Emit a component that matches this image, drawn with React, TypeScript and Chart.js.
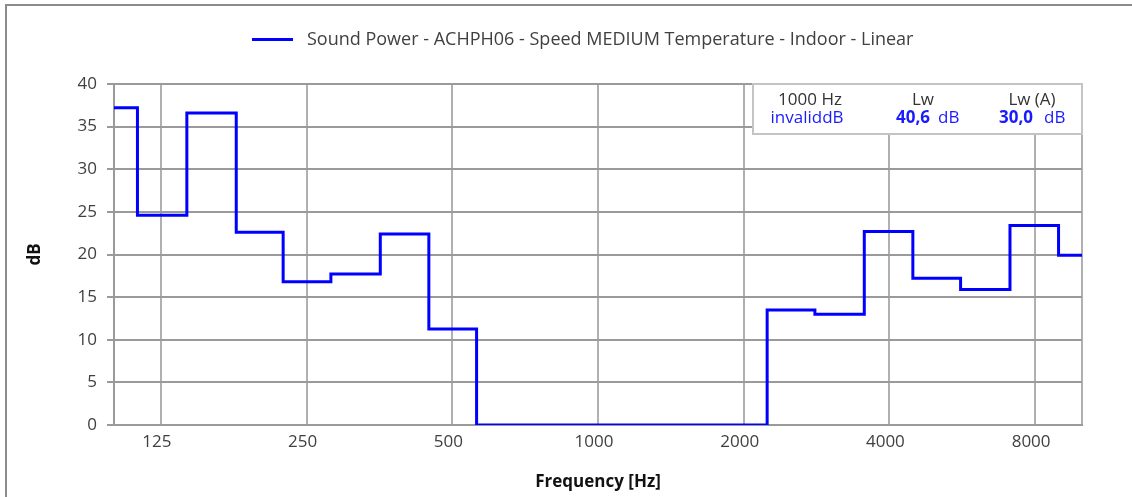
import React, { useEffect, useRef } from 'react';
import { Chart, registerables } from 'chart.js';

Chart.register(...registerables);

// ---- data ----
const BAND_FREQS = [100, 125, 160, 200, 250, 315, 400, 500, 630, 800, 1000, 1250, 1600, 2000, 2500, 3150, 4000, 5000, 6300, 8000, 10000];
const SOUND_POWER_DB = [37.2, 24.6, 36.6, 22.6, 16.8, 17.7, 22.4, 11.25, 0, 0, 0, 0, 0, 0, 13.5, 13.0, 22.7, 17.2, 15.9, 23.4, 19.9];
const X_TICKS = [125, 250, 500, 1000, 2000, 4000, 8000];
const X_MIN = 100;
const X_MAX = 10000;
const Y_MIN = 0;
const Y_MAX = 40;
const Y_STEP = 5;
const SERIES_LABEL = 'Sound Power - ACHPH06 - Speed MEDIUM Temperature - Indoor - Linear';
const X_TITLE = 'Frequency [Hz]';
const Y_TITLE = 'dB';
const SUMMARY_HEADERS = ['1000 Hz', 'Lw', 'Lw (A)'];
const SUMMARY_VALUES = ['invalid', '40,6', '30,0'];
const SUMMARY_UNIT = 'dB';

const FONT = '"Open Sans", "Noto Sans", sans-serif';
const BLUE = '#0000ff';
const TEXT_BLUE = '#1a1aff';

// band edges (geometric midpoints between adjacent band centres)
function lowerEdge(i: number): number {
  if (i === 0) return BAND_FREQS[0] / Math.sqrt(BAND_FREQS[1] / BAND_FREQS[0]);
  return Math.sqrt(BAND_FREQS[i - 1] * BAND_FREQS[i]);
}
function upperEdgeLast(): number {
  const n = BAND_FREQS.length;
  return BAND_FREQS[n - 1] * Math.sqrt(BAND_FREQS[n - 1] / BAND_FREQS[n - 2]);
}

const framePlugin = {
  id: 'frame',
  beforeDraw(chart: any) {
    const { ctx, width, height } = chart;
    ctx.save();
    ctx.fillStyle = '#ffffff';
    ctx.fillRect(0, 0, width, height);
    ctx.strokeStyle = '#8c8c8c';
    ctx.lineWidth = 2;
    ctx.strokeRect(6, 5, width + 200, height + 200);
    ctx.restore();
  },
};

const legendPlugin = {
  id: 'customLegend',
  afterDraw(chart: any) {
    const { ctx } = chart;
    const ds = chart.data.datasets[0];
    ctx.save();
    ctx.strokeStyle = ds.borderColor;
    ctx.lineWidth = 3;
    ctx.beginPath();
    ctx.moveTo(252, 39.5);
    ctx.lineTo(293, 39.5);
    ctx.stroke();
    ctx.font = `18px ${FONT}`;
    ctx.fillStyle = '#404040';
    ctx.textBaseline = 'middle';
    ctx.textAlign = 'left';
    ctx.fillText(ds.label, 307, 40);
    ctx.restore();
  },
};

const summaryPlugin = {
  id: 'summaryBox',
  afterDraw(chart: any) {
    const { ctx, chartArea } = chart;
    const left = 753;
    const top = chartArea.top;
    const right = chartArea.right;
    const bottom = 134;
    ctx.save();
    ctx.fillStyle = '#ffffff';
    ctx.fillRect(left, top, right - left, bottom - top);
    ctx.strokeStyle = '#c4c4c4';
    ctx.lineWidth = 2;
    ctx.strokeRect(left, top, right - left, bottom - top);

    const row1 = 100;
    const row2 = 118.5;
    ctx.textBaseline = 'middle';

    // headers
    ctx.font = `17px ${FONT}`;
    ctx.fillStyle = '#333333';
    ctx.textAlign = 'center';
    const headerX = [left + 57, left + 170, left + 279];
    SUMMARY_HEADERS.forEach((h, i) => ctx.fillText(h, headerX[i], row1));

    // first column value (plain)
    ctx.fillStyle = TEXT_BLUE;
    ctx.font = `17px ${FONT}`;
    ctx.textAlign = 'center';
    ctx.fillText(SUMMARY_VALUES[0] + SUMMARY_UNIT, left + 54, row2);

    // other columns: bold number + unit
    const numRight = [left + 177, left + 280];
    const unitLeft = [left + 185, left + 291];
    for (let k = 0; k < 2; k++) {
      ctx.font = `bold 17px ${FONT}`;
      ctx.textAlign = 'right';
      ctx.fillText(SUMMARY_VALUES[k + 1], numRight[k], row2);
      ctx.font = `17px ${FONT}`;
      ctx.textAlign = 'left';
      ctx.fillText(SUMMARY_UNIT, unitLeft[k], row2);
    }
    ctx.restore();
  },
};

export default function App() {
  const canvasRef = useRef<HTMLCanvasElement | null>(null);

  useEffect(() => {
    if (!canvasRef.current) return;
    const points = BAND_FREQS.map((f, i) => ({ x: lowerEdge(i), y: SOUND_POWER_DB[i] }));
    points.push({ x: upperEdgeLast(), y: SOUND_POWER_DB[SOUND_POWER_DB.length - 1] });

    const chart = new Chart(canvasRef.current, {
      type: 'line',
      data: {
        datasets: [
          {
            label: SERIES_LABEL,
            data: points,
            borderColor: BLUE,
            backgroundColor: BLUE,
            borderWidth: 3,
            pointRadius: 0,
            pointHoverRadius: 0,
            stepped: 'before',
            fill: false,
          },
        ],
      },
      options: {
        animation: false,
        responsive: true,
        maintainAspectRatio: false,
        layout: { padding: { top: 84, right: 50, bottom: 0, left: 0 } },
        plugins: {
          legend: { display: false },
          tooltip: { enabled: false },
        },
        scales: {
          x: {
            type: 'logarithmic',
            min: X_MIN,
            max: X_MAX,
            afterBuildTicks: (scale: any) => {
              scale.ticks = [X_MIN, ...X_TICKS, X_MAX].map((v) => ({ value: v }));
            },
            afterFit: (scale: any) => {
              scale.height = 72;
            },
            ticks: {
              autoSkip: false,
              maxRotation: 0,
              minRotation: 0,
              padding: 7,
              labelOffset: -4,
              color: '#404040',
              font: { family: FONT, size: 17 },
              callback: (value: any) => (X_TICKS.includes(Number(value)) ? String(value) : ''),
            },
            grid: { color: '#b0b0b0', lineWidth: 2, drawTicks: false },
            border: { display: true, color: '#9a9a9a', width: 2 },
            title: {
              display: true,
              text: X_TITLE,
              color: '#111111',
              font: { family: FONT, size: 17, weight: 'bold' },
              padding: { top: 0, bottom: 5 },
            },
          },
          y: {
            min: Y_MIN,
            max: Y_MAX,
            afterFit: (scale: any) => {
              scale.width = 114;
            },
            ticks: {
              stepSize: Y_STEP,
              padding: 10,
              color: '#404040',
              font: { family: FONT, size: 17 },
            },
            grid: { color: '#9a9a9a', lineWidth: 2, tickLength: 7 },
            border: { display: true, color: '#9a9a9a', width: 2 },
            title: {
              display: true,
              text: Y_TITLE,
              color: '#111111',
              font: { family: FONT, size: 17, weight: 'bold' },
              padding: { top: 25, bottom: 0 },
            },
          },
        },
      },
      plugins: [framePlugin, legendPlugin, summaryPlugin],
    });

    return () => {
      chart.destroy();
    };
  }, []);

  return (
    <div style={{ position: 'fixed', left: 0, top: 0, width: 1132, height: 497 }}>
      <canvas ref={canvasRef} />
    </div>
  );
}
